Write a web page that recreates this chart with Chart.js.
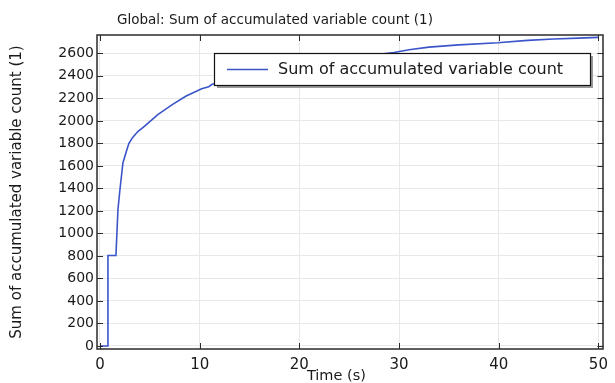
<!DOCTYPE html>
<html>
<head>
<meta charset="utf-8">
<script src="https://cdn.jsdelivr.net/npm/chart.js@4/dist/chart.umd.min.js"></script>
<style>
  html, body { margin: 0; padding: 0; background: #fff; }
  canvas { display: block; }
</style>
</head>
<body>
<canvas id="chart" width="615" height="383"></canvas>
<script>
// values (the part behind the legend is estimated)
const timeS = [0, 0.8, 0.8, 1.6, 1.8, 2.0, 2.3, 2.65, 2.9, 3.3, 3.8, 4.45, 5.8, 7.25, 8.6, 10.2, 10.9, 11.2,
    12, 14, 16, 18, 20, 22, 24, 26, 28, 29.5, 31, 33, 36, 39.9, 42.9, 45.5, 48, 50];
const varCount = [0, 0, 804, 804, 1210, 1388, 1626, 1730, 1800, 1855, 1905, 1952, 2056, 2145, 2219, 2285, 2302, 2323,
    2345, 2390, 2430, 2465, 2495, 2522, 2547, 2570, 2592, 2608, 2632, 2655, 2675, 2694, 2715, 2727, 2735, 2742];
const xTicks = [0, 10, 20, 30, 40, 50];
const yTicks = [0, 200, 400, 600, 800, 1000, 1200, 1400, 1600, 1800, 2000, 2200, 2400, 2600];

const chartTitle = 'Global: Sum of accumulated variable count (1)';
const seriesName = 'Sum of accumulated variable count';
const xTitle = 'Time (s)';
const yTitle = 'Sum of accumulated variable count (1)';

const FONT = 'DejaVu Sans';
const lineColor = '#3b55c9';
const textColor = '#1a1a1a';

// frame + inward ticks on all four sides, plus title and legend box
const framePlugin = {
    id: 'frame',
    afterDatasetsDraw(chart) {
        const ctx = chart.ctx;
        const a = chart.chartArea;
        const xs = chart.scales.x, ys = chart.scales.y;
        const tl = 6;
        ctx.save();
        ctx.strokeStyle = '#2b2b2b';
        ctx.lineWidth = 1;
        ctx.beginPath();
        for (const v of xTicks) {
            const px = Math.round(xs.getPixelForValue(v)) + 0.5;
            ctx.moveTo(px, a.bottom); ctx.lineTo(px, a.bottom - tl);
            ctx.moveTo(px, a.top); ctx.lineTo(px, a.top + tl);
        }
        for (const v of yTicks) {
            const py = Math.round(ys.getPixelForValue(v)) + 0.5;
            ctx.moveTo(a.left, py); ctx.lineTo(a.left + tl, py);
            ctx.moveTo(a.right, py); ctx.lineTo(a.right - tl, py);
        }
        ctx.stroke();
        ctx.lineWidth = 1.5;
        ctx.strokeRect(Math.round(a.left), Math.round(a.top), Math.round(a.right - a.left), Math.round(a.bottom - a.top));

        // legend
        const lx = a.left + 117, ly = a.top + 18, lw = 376, lh = 32;
        ctx.fillStyle = '#9a9a9a';
        ctx.fillRect(lx + 3, ly + 3, lw, lh);
        ctx.fillStyle = '#fff';
        ctx.fillRect(lx, ly, lw, lh);
        ctx.lineWidth = 1.2;
        ctx.strokeStyle = '#111';
        ctx.strokeRect(lx + 0.5, ly + 0.5, lw, lh);
        ctx.strokeStyle = lineColor;
        ctx.lineWidth = 1.5;
        ctx.beginPath();
        ctx.moveTo(lx + 13, ly + 16.5); ctx.lineTo(lx + 54, ly + 16.5);
        ctx.stroke();
        ctx.fillStyle = textColor;
        ctx.font = '16px "' + FONT + '"';
        ctx.textBaseline = 'middle';
        ctx.textAlign = 'left';
        ctx.fillText(seriesName, lx + 64, ly + 17);

        // chart title
        ctx.font = '13.5px "' + FONT + '"';
        ctx.fillText(chartTitle, 117, 20.5);
        ctx.restore();
    }
};

const ctx = document.getElementById('chart').getContext('2d');
new Chart(ctx, {
    type: 'line',
    data: {
        datasets: [{
            label: seriesName,
            data: timeS.map((t, i) => ({ x: t, y: varCount[i] })),
            borderColor: lineColor,
            borderWidth: 1.6,
            pointRadius: 0,
            tension: 0,
            fill: false
        }]
    },
    options: {
        responsive: false,
        devicePixelRatio: 1,
        animation: false,
        layout: { padding: { top: 35, right: 5, left: 0, bottom: 0 } },
        plugins: {
            legend: { display: false },
            title: { display: false },
            tooltip: { enabled: false }
        },
        scales: {
            x: {
                type: 'linear',
                min: -0.3,
                max: 50.5,
                afterBuildTicks: (scale) => { scale.ticks = xTicks.map(v => ({ value: v })); },
                afterFit: (scale) => { scale.height = 34; },
                grid: { color: '#e8e8e8', drawTicks: false },
                border: { display: false },
                ticks: {
                    autoSkip: false, maxRotation: 0, padding: 7,
                    color: textColor, font: { family: FONT, size: 15 },
                    callback: (v) => String(v)
                },
                title: {
                    display: true,
                    text: xTitle + '\u00a0\u00a0\u00a0\u00a0\u00a0\u00a0',
                    color: textColor,
                    font: { family: FONT, size: 14.5, lineHeight: 1 },
                    padding: { top: 0, bottom: 0 }
                }
            },
            y: {
                type: 'linear',
                min: -27,
                max: 2763,
                afterBuildTicks: (scale) => { scale.ticks = yTicks.map(v => ({ value: v })); },
                afterFit: (scale) => { scale.width = 97; },
                grid: { color: '#e8e8e8', drawTicks: false },
                border: { display: false },
                ticks: {
                    autoSkip: false, padding: 3,
                    color: textColor, font: { family: FONT, size: 14 },
                    callback: (v) => String(v)
                },
                title: {
                    display: true,
                    text: yTitle,
                    color: textColor,
                    font: { family: FONT, size: 15, lineHeight: 1 },
                    padding: { top: 10, bottom: 0 }
                }
            }
        }
    },
    plugins: [framePlugin]
});
</script>
</body>
</html>
